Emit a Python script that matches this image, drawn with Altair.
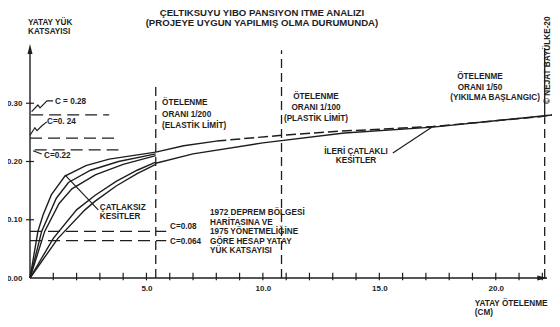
import altair as alt
import pandas as pd

# ---------------- data ----------------
# uncracked-section pushover curves (ÇATLAKSIZ KESİTLER), drift in cm vs base-shear coefficient
c1_x = [0, 0.34, 0.56, 0.92, 1.5, 2.4, 3.4, 5.4]
c1_y = [0, 0.080, 0.108, 0.143, 0.175, 0.193, 0.204, 0.216]
c2_x = [0, 0.50, 1.13, 1.65, 2.6, 3.8, 5.4]
c2_y = [0, 0.080, 0.137, 0.164, 0.185, 0.200, 0.213]
c3_x = [0, 0.63, 1.25, 1.80, 2.8, 4.0, 5.4]
c3_y = [0, 0.080, 0.128, 0.153, 0.177, 0.195, 0.210]
c4_x = [0, 1.0, 2.0, 2.8, 3.7, 4.6, 5.4]
c4_y = [0, 0.068, 0.117, 0.142, 0.166, 0.185, 0.199]
c5_x = [0, 1.2, 2.36, 2.8, 3.7, 4.6, 5.4]
c5_y = [0, 0.068, 0.117, 0.132, 0.158, 0.179, 0.195]
# continuation of the curves (İLERİ ÇATLAKLI KESİTLER)
up_solid_x = [5.4, 6.6, 8.0]
up_solid_y = [0.216, 0.227, 0.235]
up_dash_x = [8.0, 10.8, 13.3, 17.3, 21.9, 22.7]
up_dash_y = [0.235, 0.245, 0.252, 0.260, 0.277, 0.282]
low_x = [5.4, 7.0, 10.0, 13.5, 17.3, 22.7]
low_y = [0.197, 0.213, 0.232, 0.249, 0.259, 0.281]

# drift-ratio limits (1/200, 1/100, 1/50)
drift_x = [5.4, 10.8, 22.1]
drift_top = [0.331, 0.391, 0.276]
collapse_top = 0.395

# design base-shear coefficients
c_vals = [0.28, 0.24, 0.22, 0.08, 0.064]
c_from = [0.05, 0.0, 0.2, 0.0, 0.0]
c_to = [3.4, 3.65, 3.8, 5.85, 5.85]

x_ticks = list(range(1, 23))
x_labels = [5, 10, 15, 20]
y_labels = [0.0, 0.1, 0.2, 0.3]

# leader lines / zigzag pointers
lead_grp = ["a"] * 5 + ["b"] * 5 + ["c"] * 2 + ["d"] * 2 + ["e"] * 2
lead_x = [0.07, 0.34, 0.43, 0.73, 0.99,
          0.0, 0.21, 0.30, 0.50, 0.72,
          0.13, 0.50,
          1.5, 2.93,
          15.58, 17.25]
lead_y = [0.2855, 0.297, 0.292, 0.304, 0.304,
          0.245, 0.258, 0.253, 0.261, 0.268,
          0.2185, 0.2129,
          0.177, 0.117,
          0.2146, 0.259]

# texts
title_txt = ["ÇELTIKSUYU YIBO PANSIYON ITME ANALIZI", "(PROJEYE UYGUN YAPILMIŞ OLMA DURUMUNDA)"]
title_x = [9.96, 9.96]
title_y = [0.4555, 0.4375]

left_txt = ["YATAY YÜK", "KATSAYISI",
            "ÖTELENME", "ORANI 1/200", "(ELASTİK LİMİT)",
            "ÇATLAKSIZ", "KESİTLER",
            "C=0.08", "C=0.064",
            "1972 DEPREM BÖLGESİ", "HARİTASINA VE", "1975 YÖNETMELİĞİNE", "GÖRE HESAP YATAY", "YÜK KATSAYISI",
            "YATAY ÖTELENME", "(CM)",
            "C = 0.28", "C=0. 24", "C=0.22"]
left_x = [-0.086, -0.086,
          5.67, 5.67, 5.67,
          3.0, 3.0,
          6.01, 6.01,
          7.73, 7.73, 7.73, 7.73, 7.73,
          19.1, 19.1,
          1.07, 0.73, 0.60]
left_y = [0.4386, 0.4223,
          0.2996, 0.2790, 0.2601,
          0.1197, 0.1042,
          0.0876, 0.0618,
          0.1111, 0.0949, 0.0795, 0.0623, 0.0469,
          -0.0450, -0.0605,
          0.303, 0.2678, 0.2103]

center_txt = ["ÖTELENME", "ORANI 1/100", "(PLASTİK LİMİT)",
              "ÖTELENME", "ORANI 1/50", "(YIKILMA BAŞLANGIC)",
              "İLERİ ÇATLAKLI", "KESİTLER"]
center_x = [12.28, 12.28, 12.28, 19.32, 19.32, 19.97, 14.0, 14.0]
center_y = [0.3107, 0.2910, 0.2738, 0.3451, 0.3262, 0.3082, 0.2163, 0.2009]

copy_txt = ["© NEJAT BAYÜLKE-20"]
copy_x = [22.24]
copy_y = [0.2987]

# ---------------- tables ----------------
def series_df(named):
    rows = []
    for name, (xs, ys) in named.items():
        for i, (a, b) in enumerate(zip(xs, ys)):
            rows.append({"s": name, "o": i, "x": a, "y": b})
    return pd.DataFrame(rows)

solid_df = series_df({"c1": (c1_x, c1_y), "c2": (c2_x, c2_y), "c3": (c3_x, c3_y),
                      "c4": (c4_x, c4_y), "c5": (c5_x, c5_y),
                      "us": (up_solid_x, up_solid_y), "lo": (low_x, low_y)})
dash_df = series_df({"ud": (up_dash_x, up_dash_y)})
lead_df = pd.DataFrame({"s": lead_grp, "x": lead_x, "y": lead_y})
lead_df["o"] = range(len(lead_df))

drift_df = pd.DataFrame({"x": drift_x, "y": [0.0] * 3, "y2": drift_top})
collapse_df = pd.DataFrame({"x": [drift_x[2]], "y": [drift_top[2]], "y2": [collapse_top]})
c_df = pd.DataFrame({"x": c_from, "x2": c_to, "y": c_vals})
xt_df = pd.DataFrame({"x": x_ticks, "y": [-0.004] * len(x_ticks), "y2": [0.009] * len(x_ticks)})
yt_df = pd.DataFrame({"x": [-0.17] * 3, "x2": [0.17] * 3, "y": y_labels[1:]})
xaxis_df = pd.DataFrame({"x": [0.0], "x2": [22.2], "y": [0.0]})
yaxis_df = pd.DataFrame({"x": [0.0], "y": [0.0], "y2": [0.39]})
arrow_up_df = pd.DataFrame({"x": [0.0], "y": [0.393]})
arrow_rt_df = pd.DataFrame({"x": [22.0], "y": [0.0]})

title_df = pd.DataFrame({"x": title_x, "y": title_y, "t": title_txt})
left_df = pd.DataFrame({"x": left_x, "y": left_y, "t": left_txt})
center_df = pd.DataFrame({"x": center_x, "y": center_y, "t": center_txt})
copy_df = pd.DataFrame({"x": copy_x, "y": copy_y, "t": copy_txt})

# ---------------- styling ----------------
INK = "#1e1e1e"
FONT = "Liberation Sans"
XS = alt.Scale(domain=[0, 22.2], nice=False, zero=False)
YS = alt.Scale(domain=[0, 0.4], nice=False, zero=False)
XA = alt.Axis(values=x_labels, format=".1f", grid=False, domain=False, ticks=False,
              labelPadding=6, labelFont=FONT, labelFontSize=8, labelFontWeight="bold",
              labelColor=INK, title=None)
YA = alt.Axis(values=y_labels, format=".2f", grid=False, domain=False, ticks=False,
              labelPadding=8, labelFont=FONT, labelFontSize=8, labelFontWeight="bold",
              labelColor=INK, title=None)


def X(f="x"):
    return alt.X(f + ":Q", scale=XS, axis=XA)


def Y(f="y"):
    return alt.Y(f + ":Q", scale=YS, axis=YA)


solid = alt.Chart(solid_df).mark_line(color=INK, strokeWidth=1.4).encode(
    x=X(), y=Y(), detail="s:N", order="o:Q")
dashed = alt.Chart(dash_df).mark_line(color=INK, strokeWidth=1.5, strokeDash=[10, 4]).encode(
    x=X(), y=Y(), detail="s:N", order="o:Q")
leads = alt.Chart(lead_df).mark_line(color=INK, strokeWidth=1.2).encode(
    x=X(), y=Y(), detail="s:N", order="o:Q")

drift = alt.Chart(drift_df).mark_rule(color=INK, strokeWidth=1.3, strokeDash=[9, 5]).encode(
    x=X(), y=Y(), y2="y2:Q")
collapse = alt.Chart(collapse_df).mark_rule(color=INK, strokeWidth=1.3).encode(
    x=X(), y=Y(), y2="y2:Q")
cl = alt.Chart(c_df).mark_rule(color=INK, strokeWidth=1.3, strokeDash=[12, 6]).encode(
    x=X(), x2="x2:Q", y=Y())

xaxis = alt.Chart(xaxis_df).mark_rule(color=INK, strokeWidth=1.4).encode(x=X(), x2="x2:Q", y=Y())
yaxis = alt.Chart(yaxis_df).mark_rule(color=INK, strokeWidth=1.4).encode(x=X(), y=Y(), y2="y2:Q")
xt = alt.Chart(xt_df).mark_rule(color=INK, strokeWidth=1.2).encode(x=X(), y=Y(), y2="y2:Q")
yt = alt.Chart(yt_df).mark_rule(color=INK, strokeWidth=1.2).encode(x=X(), x2="x2:Q", y=Y())
arrow_up = alt.Chart(arrow_up_df).mark_point(
    shape="M-0.5,1L0,-1L0.5,1Z", filled=True, size=100, color=INK, opacity=1
).encode(x=X(), y=Y())
arrow_rt = alt.Chart(arrow_rt_df).mark_point(
    shape="M-1,-0.5L1,0L-1,0.5Z", filled=True, size=100, color=INK, opacity=1
).encode(x=X(), y=Y())

txt_style = dict(font=FONT, fontWeight="bold", color=INK, baseline="middle")
title_t = alt.Chart(title_df).mark_text(align="center", fontSize=9.6, **txt_style).encode(
    x=X(), y=Y(), text="t:N")
left_t = alt.Chart(left_df).mark_text(align="left", fontSize=8.2, **txt_style).encode(
    x=X(), y=Y(), text="t:N")
center_t = alt.Chart(center_df).mark_text(align="center", fontSize=8.2, **txt_style).encode(
    x=X(), y=Y(), text="t:N")
copy_t = alt.Chart(copy_df).mark_text(align="left", angle=270, fontSize=8.2, **txt_style).encode(
    x=X(), y=Y(), text="t:N")

chart = alt.layer(
    drift, collapse, cl, xaxis, yaxis, xt, yt, arrow_up, arrow_rt,
    solid, dashed, leads, title_t, left_t, center_t, copy_t
).properties(
    width=517, height=233,
    padding={"left": 22, "top": 37, "right": 5, "bottom": 41},
    autosize=alt.AutoSizeParams(type="none"),
    background="white",
).configure_view(stroke=None)

chart.save("out.html", embed_options={"renderer": "svg", "actions": False})
